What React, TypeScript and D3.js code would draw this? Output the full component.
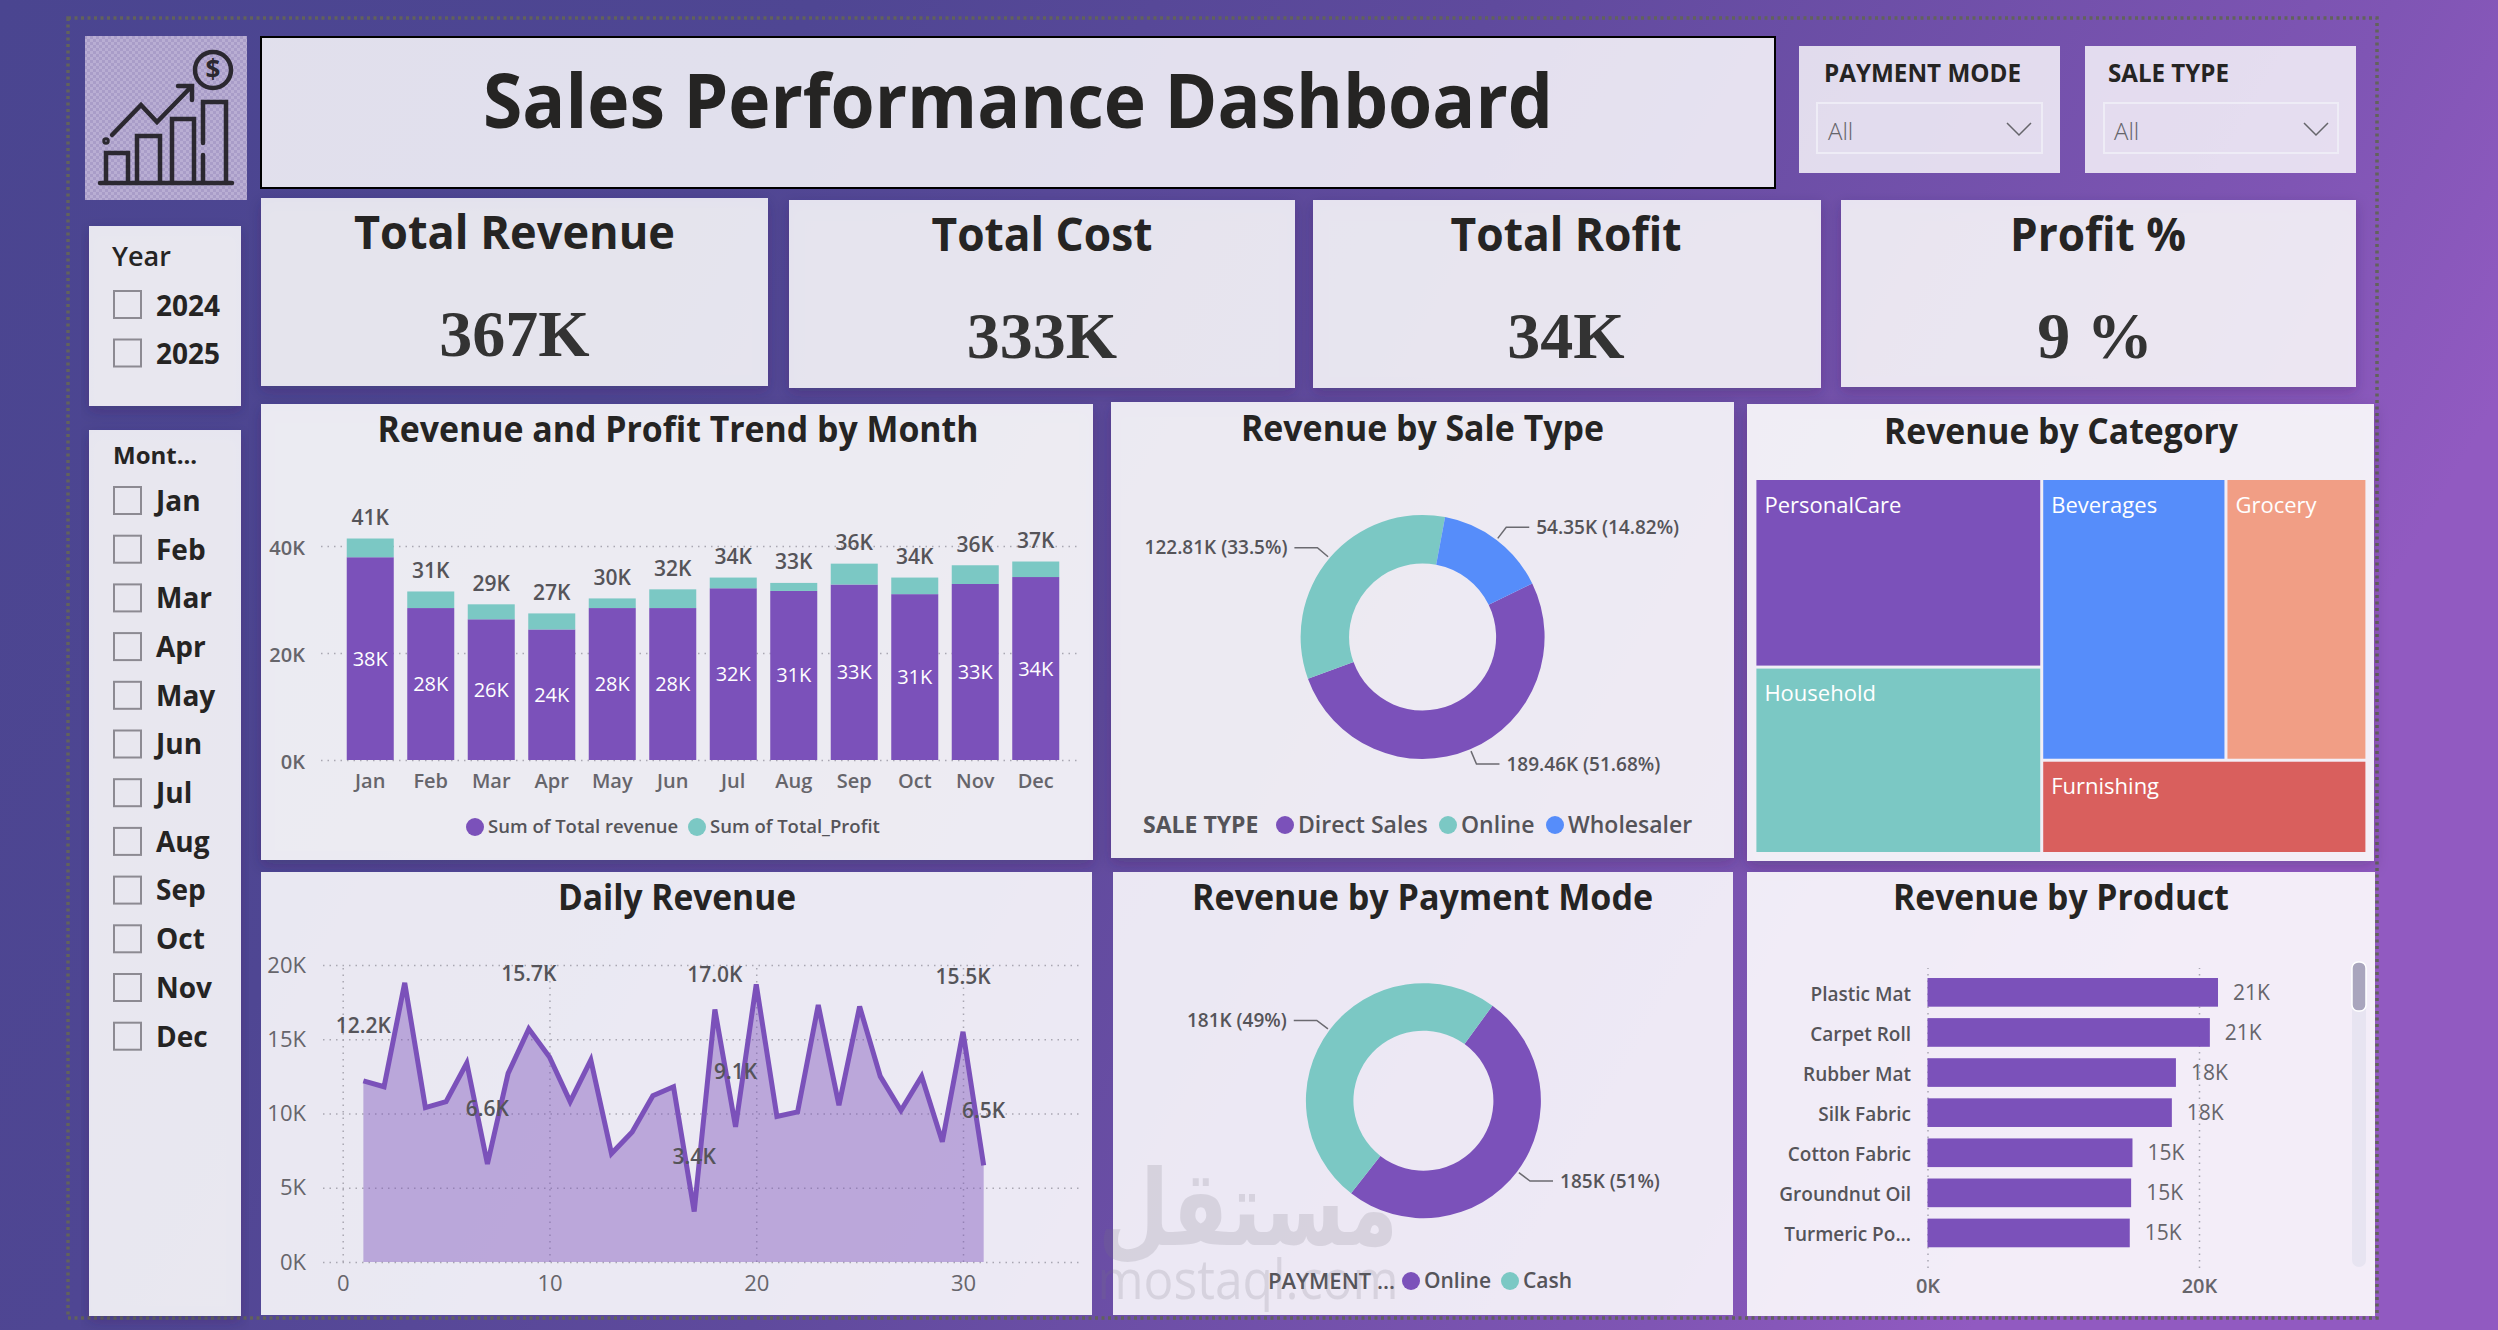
import React, { useEffect, useRef } from 'react';
import * as d3 from 'd3';

const months = ['Jan', 'Feb', 'Mar', 'Apr', 'May', 'Jun', 'Jul', 'Aug', 'Sep', 'Oct', 'Nov', 'Dec'];
const monthRevenue = [37900, 28400, 26300, 24400, 28400, 28400, 32100, 31600, 32800, 31000, 32900, 34200];
const monthProfit = [3500, 3100, 2800, 3000, 1800, 3500, 2000, 1500, 3900, 3100, 3500, 2900];
const monthRevenueLabels = ['38K', '28K', '26K', '24K', '28K', '28K', '32K', '31K', '33K', '31K', '33K', '34K'];
const monthTotalLabels = ['41K', '31K', '29K', '27K', '30K', '32K', '34K', '33K', '36K', '34K', '36K', '37K'];

const days = d3.range(1, 32);
const dailyRevenue = [
  12200, 11800, 18800, 10400, 10800, 13400, 6600, 12700, 15700, 13800, 10800, 13600, 7300, 8750, 11200, 11800,
  3400, 17000, 9100, 18700, 9800, 10100, 17300, 10550, 17200, 12500, 10200, 12500, 8100, 15500, 6500,
];
const dailyLabelled = [1, 7, 9, 17, 18, 19, 30, 31];

const saleTypes = ['Direct Sales', 'Online', 'Wholesaler'];
const saleTypeRevenue = [189.46, 122.81, 54.35];
const saleTypeLabels = ['189.46K (51.68%)', '122.81K (33.5%)', '54.35K (14.82%)'];

const payModes = ['Online', 'Cash'];
const payModeRevenue = [185, 181];
const payModeLabels = ['185K (51%)', '181K (49%)'];

const categories = ['PersonalCare', 'Household', 'Beverages', 'Grocery', 'Furnishing'];
const categoryRevenue = [86.5, 85.5, 83, 63.5, 48.5];

const products = ['Plastic Mat', 'Carpet Roll', 'Rubber Mat', 'Silk Fabric', 'Cotton Fabric', 'Groundnut Oil', 'Turmeric Po...'];
const productRevenue = [21400, 20800, 18300, 18000, 15100, 15000, 14900];
const productLabels = ['21K', '21K', '18K', '18K', '15K', '15K', '15K'];

const kpiTitles = ['Total Revenue', 'Total Cost', 'Total Rofit', 'Profit %'];
const kpiValues = ['367K', '333K', '34K', '9 %'];

const PURPLE = '#7b51ba';
const TEAL = '#7bc8c4';
const BLUE = '#568dfa';
const SALMON = '#f19e85';
const RED = '#d95f5d';
const DARK = '#252423';
const GREY = '#555459';
const SANS = '"Open Sans", sans-serif';
const SERIF = '"Liberation Serif", serif';

type Sel = d3.Selection<any, any, any, any>;

function text(g: Sel, x: number, y: number, s: string, size: number, weight = 400, fill = DARK, anchor = 'start', family = SANS) {
  return g.append('text')
    .attr('x', x)
    .attr('y', y)
    .attr('dy', '0.35em')
    .attr('font-size', size)
    .attr('font-weight', weight)
    .attr('font-family', family)
    .attr('fill', fill)
    .attr('text-anchor', anchor)
    .text(s);
}

// squeeze a label to a measured width, the original font is narrower than Open Sans
function fit(t: Sel, width: number) {
  return t.attr('textLength', width).attr('lengthAdjust', 'spacingAndGlyphs');
}

function panel(g: Sel, x0: number, y0: number, x1: number, y1: number, alpha = 0.87, shadow = true) {
  return g.append('rect')
    .attr('x', x0)
    .attr('y', y0)
    .attr('width', x1 - x0)
    .attr('height', y1 - y0)
    .attr('fill', '#fff')
    .attr('fill-opacity', alpha)
    .attr('filter', shadow ? 'url(#shadow)' : null);
}

function styleAxis(a: Sel, size: number, weight = 400) {
  a.select('.domain').remove();
  a.selectAll('.tick line')
    .attr('stroke', '#a9a7b2')
    .attr('stroke-width', 1.5)
    .attr('stroke-dasharray', '1.5 5');
  a.selectAll('.tick text')
    .attr('font-size', size)
    .attr('font-weight', weight)
    .attr('font-family', SANS)
    .attr('fill', '#66656b');
}

function legend(g: Sel, y: number, items: { x: number; label: string; color: string; size: number }[]) {
  items.forEach(d => {
    g.append('circle').attr('cx', d.x).attr('cy', y).attr('r', 9).attr('fill', d.color);
    text(g, d.x + 13, y, d.label, d.size, 600, GREY);
  });
}

function drawLogo(svg: Sel) {
  svg.append('rect').attr('x', 85).attr('y', 36).attr('width', 162).attr('height', 164).attr('fill', 'url(#checker)');
  const g = svg.append('g').attr('fill', 'none').attr('stroke', '#2b2830').attr('stroke-width', 4.5).attr('stroke-linecap', 'round');
  g.append('path').attr('d', 'M100 183H232');
  g.append('path').attr('d', 'M106 181V153H128V181M137 181V136H160V181M172 181V119H194V181M203 181V155M203 143V102H226V181');
  g.append('path').attr('d', 'M112 135L141 105L157 122L191 87M178 86H192V100');
  g.append('circle').attr('cx', 106).attr('cy', 141).attr('r', 1.5);
  g.append('circle').attr('cx', 213).attr('cy', 70).attr('r', 18);
  text(svg, 213, 70, '$', 26, 700, '#2b2830', 'middle');
}

function drawSlicers(svg: Sel) {
  panel(svg, 89, 226, 241, 406, 0.86);
  text(svg, 112, 257, 'Year', 27, 600);
  ['2024', '2025'].forEach((d, i) => {
    svg.append('rect').attr('x', 114).attr('y', 291 + i * 48.5).attr('width', 27).attr('height', 27)
      .attr('fill', 'none').attr('stroke', '#8c8a92').attr('stroke-width', 2);
    text(svg, 156, 306 + i * 48.5, d, 28, 700);
  });

  panel(svg, 89, 430, 241, 1316, 0.86);
  text(svg, 113, 456, 'Mont...', 24, 700);
  months.forEach((d, i) => {
    svg.append('rect').attr('x', 114).attr('y', 487 + i * 48.7).attr('width', 27).attr('height', 27)
      .attr('fill', 'none').attr('stroke', '#8c8a92').attr('stroke-width', 2);
    text(svg, 156, 501 + i * 48.7, d, 28, 700);
  });

  [
    { x0: 1799, x1: 2060, label: 'PAYMENT MODE', w: 197, lx: 1824, bx: 1817, bw: 225, ax: 1828, cx: 2019 },
    { x0: 2085, x1: 2356, label: 'SALE TYPE', w: 121, lx: 2108, bx: 2104, bw: 234, ax: 2114, cx: 2316 },
  ].forEach(d => {
    panel(svg, d.x0, 46, d.x1, 173, 0.8, false);
    fit(text(svg, d.lx, 73, d.label, 24.5, 700), d.w);
    svg.append('rect').attr('x', d.bx).attr('y', 103).attr('width', d.bw).attr('height', 50)
      .attr('fill', 'none').attr('stroke', '#eeecf6').attr('stroke-width', 2);
    text(svg, d.ax, 132, 'All', 24, 300, '#66656b');
    svg.append('path').attr('d', `M${d.cx - 12} 123L${d.cx} 135L${d.cx + 12} 123`)
      .attr('fill', 'none').attr('stroke', '#66656b').attr('stroke-width', 1.5);
  });
}

function drawHeader(svg: Sel) {
  panel(svg, 261, 37, 1775, 188, 0.83, false).attr('stroke', '#000').attr('stroke-width', 2);
  fit(text(svg, 1018, 102, 'Sales Performance Dashboard', 75, 700, DARK, 'middle'), 1070);

  const boxes = [[261, 198, 768, 386], [789, 200, 1295, 388], [1313, 200, 1821, 388], [1841, 200, 2356, 387]];
  const titleX = [514.5, 1042, 1566, 2098];
  const valueX = [514.5, 1042, 1566, 2095];
  const titleW = [321, 221, 231, 176];
  boxes.forEach((b, i) => {
    panel(svg, b[0], b[1], b[2], b[3], 0.84);
    fit(text(svg, titleX[i], b[1] + 35, kpiTitles[i], 46, 700, DARK, 'middle'), titleW[i]);
    text(svg, valueX[i], b[1] + 135, kpiValues[i], 66, 700, '#333', 'middle', SERIF);
  });
}

function chartTitle(svg: Sel, x: number, y: number, s: string, width: number) {
  fit(text(svg, x, y, s, 35, 700, DARK, 'middle'), width);
}

function drawMonthBars(svg: Sel) {
  panel(svg, 261, 404, 1093, 860, 0.88);
  chartTitle(svg, 678, 430, 'Revenue and Profit Trend by Month', 601);

  const x = d3.scaleBand().domain(months).range([340, 1066]).paddingInner(0.223).paddingOuter(0.1115);
  const y = d3.scaleLinear().domain([0, 40000]).range([760, 546]);

  const ax = svg.append('g').attr('transform', 'translate(321,0)')
    .call(d3.axisLeft(y).tickValues([0, 20000, 40000]).tickFormat((d: any) => `${d / 1000}K`).tickSize(-758).tickPadding(16));
  styleAxis(ax, 20, 600);
  ax.selectAll('.tick text').attr('dy', '0.4em');
  const bx = svg.append('g').attr('transform', 'translate(0,760)')
    .call(d3.axisBottom(x).tickSize(0).tickPadding(14));
  styleAxis(bx, 20, 600);

  const stack = d3.stack<number>().keys(['revenue', 'profit'])
    .value((i, key) => (key === 'revenue' ? monthRevenue[i] : monthProfit[i]))(months.map((_, i) => i));

  const colors = [PURPLE, TEAL];
  stack.forEach((layer, k) => {
    svg.append('g').selectAll('rect').data(layer).enter().append('rect')
      .attr('x', (_, i) => x(months[i]) as number)
      .attr('width', x.bandwidth())
      .attr('y', d => y(d[1]))
      .attr('height', d => y(d[0]) - y(d[1]))
      .attr('fill', colors[k]);
  });

  months.forEach((m, i) => {
    const cx = (x(m) as number) + x.bandwidth() / 2;
    text(svg, cx, y(monthRevenue[i] / 2), monthRevenueLabels[i], 20, 400, '#fff', 'middle');
    text(svg, cx, y(monthRevenue[i] + monthProfit[i]) - 21, monthTotalLabels[i], 21, 600, GREY, 'middle');
  });

  legend(svg, 827, [
    { x: 475, label: 'Sum of Total revenue', color: PURPLE, size: 18.5 },
    { x: 697, label: 'Sum of Total_Profit', color: TEAL, size: 18.5 },
  ]);
}

function drawDaily(svg: Sel) {
  panel(svg, 261, 872, 1092, 1315, 0.88, false);
  chartTitle(svg, 677, 898, 'Daily Revenue', 238);

  const x = d3.scaleLinear().domain([0, 30]).range([342.7, 963]);
  const y = d3.scaleLinear().domain([0, 20000]).range([1262, 965]);

  const ax = svg.append('g').attr('transform', 'translate(323,0)')
    .call(d3.axisLeft(y).tickValues([0, 5000, 10000, 15000, 20000]).tickFormat((d: any) => `${d / 1000}K`).tickSize(-758).tickPadding(17));
  styleAxis(ax, 22);
  const bx = svg.append('g').attr('transform', 'translate(0,1262)')
    .call(d3.axisBottom(x).tickValues([0, 10, 20, 30]).tickFormat(d3.format('d') as any).tickSize(-297).tickPadding(13));
  styleAxis(bx, 22);

  const area = d3.area<number>().x(d => x(d)).y0(y(0)).y1(d => y(dailyRevenue[d - 1]));
  const line = d3.line<number>().x(d => x(d)).y(d => y(dailyRevenue[d - 1]));
  svg.append('path').datum(days).attr('d', area).attr('fill', PURPLE).attr('fill-opacity', 0.43);
  svg.append('path').datum(days).attr('d', line).attr('fill', 'none').attr('stroke', PURPLE)
    .attr('stroke-width', 5).attr('stroke-linejoin', 'miter');

  const fmt = d3.format('.1f');
  dailyLabelled.forEach(d => {
    const v = dailyRevenue[d - 1];
    text(svg, x(d), y(v) - (d === 18 ? 35 : 55), `${fmt(v / 1000)}K`, 21, 600, GREY, 'middle');
  });
}

function drawDonut(svg: Sel, cx: number, cy: number, r: number, inner: number, startDeg: number,
  values: number[], colors: string[], labels: string[]) {
  const pie = d3.pie<number>().sort(null).startAngle(startDeg * Math.PI / 180).endAngle((startDeg + 360) * Math.PI / 180);
  const arcs = pie(values);
  const arc = d3.arc<any>().innerRadius(inner).outerRadius(r);
  const rim = d3.arc<any>().innerRadius(r + 2).outerRadius(r + 2);
  const elbow = d3.arc<any>().innerRadius(r + 16).outerRadius(r + 16);
  const g = svg.append('g').attr('transform', `translate(${cx},${cy})`);
  g.selectAll('path.slice').data(arcs).enter().append('path').attr('class', 'slice')
    .attr('d', arc).attr('fill', (_, i) => colors[i]);
  arcs.forEach((a, i) => {
    const p0 = rim.centroid(a);
    const p1 = elbow.centroid(a);
    const right = p1[0] > 0;
    const p2 = [p1[0] + (right ? 23 : -23), p1[1]];
    g.append('path').attr('d', d3.line()([p0 as any, p1 as any, p2 as any]) as string)
      .attr('fill', 'none').attr('stroke', '#6b6a70').attr('stroke-width', 1.5);
    text(g, p2[0] + (right ? 7 : -7), p2[1], labels[i], 19, 600, GREY, right ? 'start' : 'end');
  });
}

function drawSaleType(svg: Sel) {
  panel(svg, 1111, 402, 1734, 858, 0.87);
  chartTitle(svg, 1422.5, 429, 'Revenue by Sale Type', 363);
  drawDonut(svg, 1422.6, 637, 122, 73.5, 64, saleTypeRevenue, [PURPLE, TEAL, BLUE], saleTypeLabels);
  text(svg, 1143, 825, 'SALE TYPE', 23, 700, GREY);
  legend(svg, 825, [
    { x: 1285, label: saleTypes[0], color: PURPLE, size: 23 },
    { x: 1448, label: saleTypes[1], color: TEAL, size: 23 },
    { x: 1555, label: saleTypes[2], color: BLUE, size: 23 },
  ]);
}

function drawPayMode(svg: Sel) {
  panel(svg, 1113, 872, 1733, 1315, 0.87, false);
  chartTitle(svg, 1422.6, 898, 'Revenue by Payment Mode', 461);
  drawDonut(svg, 1423.4, 1100.7, 117.5, 70, 36, payModeRevenue, [PURPLE, TEAL], payModeLabels);
  text(svg, 1268, 1281, 'PAYMENT ...', 22, 600, GREY);
  legend(svg, 1281, [
    { x: 1411, label: payModes[0], color: PURPLE, size: 21 },
    { x: 1510, label: payModes[1], color: TEAL, size: 21 },
  ]);
}

function drawTreemap(svg: Sel) {
  panel(svg, 1747, 404, 2374, 861, 0.89);
  chartTitle(svg, 2061, 432, 'Revenue by Category', 354);

  const colors = [PURPLE, TEAL, BLUE, SALMON, RED];
  const root = d3.hierarchy<any>({ children: categories.map((name, i) => ({ name, value: categoryRevenue[i], color: colors[i] })) })
    .sum(d => d.value);
  d3.treemap<any>().tile(d3.treemapSquarify).size([609, 372]).paddingInner(3)(root);

  const g = svg.append('g').attr('transform', 'translate(1756.4,480)');
  (root.leaves() as any[]).forEach(n => {
    g.append('rect')
      .attr('x', n.x0)
      .attr('y', n.y0)
      .attr('width', n.x1 - n.x0)
      .attr('height', n.y1 - n.y0)
      .attr('fill', n.data.color);
    text(g, n.x0 + 8, n.y0 + 25, n.data.name, 22, 400, '#fff');
  });
}

function drawProducts(svg: Sel) {
  panel(svg, 1747, 872, 2375, 1316, 0.89, false);
  chartTitle(svg, 2061, 898, 'Revenue by Product', 336);

  const x = d3.scaleLinear().domain([0, 20000]).range([1927.5, 2199]);
  const y = d3.scaleBand().domain(products).range([972.3, 1253]).paddingInner(0.285).paddingOuter(0.1425);

  const bx = svg.append('g').attr('transform', 'translate(0,1268)')
    .call(d3.axisBottom(x).tickValues([0, 20000]).tickFormat((d: any) => `${d / 1000}K`).tickSize(-300).tickPadding(11));
  styleAxis(bx, 20, 600);

  svg.append('g').selectAll('rect').data(products).enter().append('rect')
    .attr('x', x(0))
    .attr('y', d => y(d) as number)
    .attr('width', (_, i) => x(productRevenue[i]) - x(0))
    .attr('height', y.bandwidth())
    .attr('fill', PURPLE);

  products.forEach((p, i) => {
    const cy = (y(p) as number) + y.bandwidth() / 2;
    text(svg, 1911, cy + 1.5, p, 19, 600, GREY, 'end');
    text(svg, x(productRevenue[i]) + 15, cy, productLabels[i], 21, 400, '#66656b');
  });

  // scrollbar on the right of the visual
  svg.append('rect').attr('x', 2352).attr('y', 962).attr('width', 14).attr('height', 305).attr('rx', 7).attr('fill', '#e7e4f1');
  svg.append('rect').attr('x', 2352).attr('y', 962).attr('width', 14).attr('height', 49).attr('rx', 6)
    .attr('fill', '#a9a5bd').attr('stroke', '#fff').attr('stroke-width', 1.5);
}

function drawWatermark(svg: Sel) {
  const g = svg.append('g').attr('opacity', 0.18);
  fit(text(g, 1248, 1208, 'مستقل', 105, 700, '#77757f', 'middle', '"DejaVu Sans", sans-serif'), 300);
  fit(text(g, 1248, 1280, 'mostaql.com', 54, 400, '#77757f', 'middle'), 301);
}

export default function App() {
  const ref = useRef<SVGSVGElement>(null);

  useEffect(() => {
    const svg = d3.select(ref.current) as Sel;
    svg.selectAll('*').remove();

    const defs = svg.append('defs');
    const grad = defs.append('linearGradient').attr('id', 'bg').attr('x1', 0).attr('y1', 0).attr('x2', 1).attr('y2', 0.3);
    grad.append('stop').attr('offset', '0%').attr('stop-color', '#4a4590');
    grad.append('stop').attr('offset', '30%').attr('stop-color', '#4f4693');
    grad.append('stop').attr('offset', '55%').attr('stop-color', '#5f4a9d');
    grad.append('stop').attr('offset', '88%').attr('stop-color', '#7f55b4');
    grad.append('stop').attr('offset', '100%').attr('stop-color', '#915ac1');
    const shadow = defs.append('filter').attr('id', 'shadow').attr('x', '-5%').attr('y', '-5%').attr('width', '110%').attr('height', '115%');
    shadow.append('feDropShadow').attr('dx', 0).attr('dy', 5).attr('stdDeviation', 7)
      .attr('flood-color', '#2a2440').attr('flood-opacity', 0.28);
    const checker = defs.append('pattern').attr('id', 'checker').attr('width', 6).attr('height', 6).attr('patternUnits', 'userSpaceOnUse');
    checker.append('rect').attr('width', 6).attr('height', 6).attr('fill', '#b9aed3');
    checker.append('rect').attr('width', 3).attr('height', 3).attr('fill', '#a99dc8');
    checker.append('rect').attr('x', 3).attr('y', 3).attr('width', 3).attr('height', 3).attr('fill', '#a99dc8');

    svg.append('rect').attr('width', 2498).attr('height', 1330).attr('fill', 'url(#bg)');
    svg.append('rect').attr('x', 68).attr('y', 18).attr('width', 2309).attr('height', 1300)
      .attr('fill', 'none').attr('stroke', '#62625c').attr('stroke-width', 3.5).attr('stroke-dasharray', '3 3.5');

    drawLogo(svg);
    drawHeader(svg);
    drawSlicers(svg);
    drawMonthBars(svg);
    drawSaleType(svg);
    drawTreemap(svg);
    drawDaily(svg);
    drawPayMode(svg);
    drawProducts(svg);
    drawWatermark(svg);
  }, []);

  return <svg ref={ref} width={2498} height={1330} style={{ position: 'absolute', left: 0, top: 0, display: 'block' }} />;
}
